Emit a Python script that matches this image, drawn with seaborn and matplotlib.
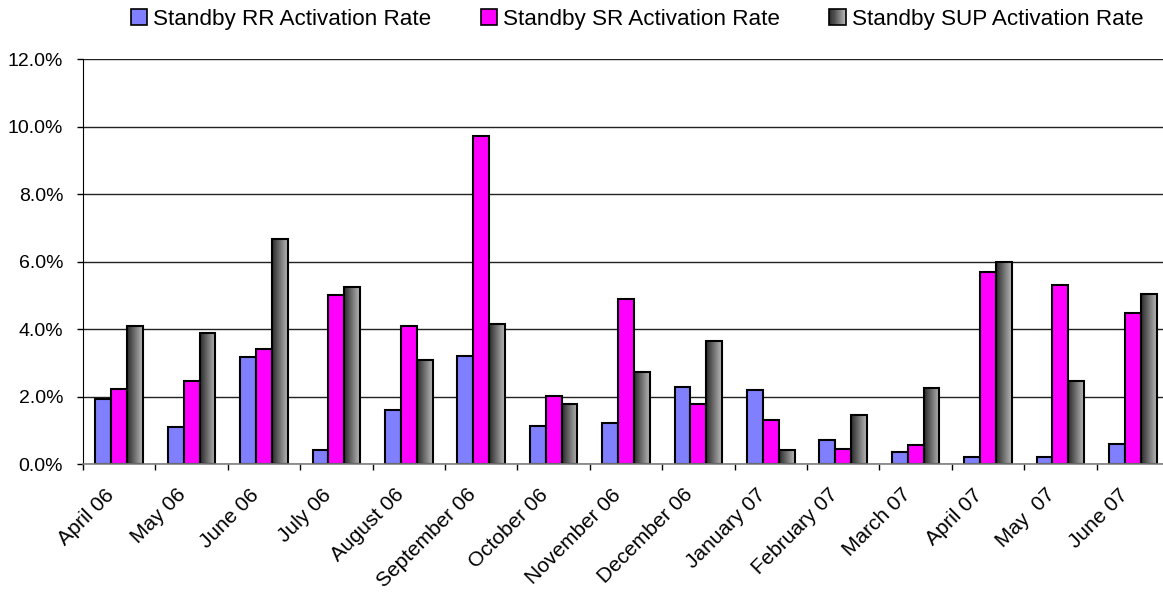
import numpy as np
import pandas as pd
import seaborn as sns
import matplotlib.pyplot as plt
import matplotlib.transforms as mtransforms
from matplotlib.patches import Rectangle
from matplotlib.legend_handler import HandlerBase
from matplotlib.colors import LinearSegmentedColormap

months = ["April 06", "May 06", "June 06", "July 06", "August 06", "September 06",
          "October 06", "November 06", "December 06", "January 07", "February 07",
          "March 07", "April 07", "May  07", "June 07"]
rr_rate = [1.93, 1.10, 3.19, 0.42, 1.60, 3.22, 1.14, 1.23, 2.29, 2.21, 0.71, 0.36, 0.22, 0.21, 0.59]
sr_rate = [2.22, 2.47, 3.42, 5.02, 4.10, 9.72, 2.02, 4.88, 1.79, 1.31, 0.46, 0.58, 5.69, 5.32, 4.48]
sup_rate = [4.09, 3.89, 6.67, 5.25, 3.08, 4.14, 1.80, 2.74, 3.64, 0.41, 1.45, 2.27, 5.98, 2.47, 5.04]
series_names = ["Standby RR Activation Rate", "Standby SR Activation Rate",
                "Standby SUP Activation Rate"]
y_ticks = [0, 2, 4, 6, 8, 10, 12]

sns.set_style("ticks")
plt.rcParams["font.family"] = ["Liberation Sans", "DejaVu Sans"]
plt.rcParams["text.color"] = "black"

df = pd.DataFrame({
    "month": months * 3,
    "rate": rr_rate + sr_rate + sup_rate,
    "series": [s for s in series_names for _ in months],
})

grad_cmap = LinearSegmentedColormap.from_list("sup", ["#2a2a2a", "#b8b8b8"])

fig = plt.figure(figsize=(11.63, 5.92), dpi=100)
ax = fig.add_axes([83 / 1163, 1 - 464.3 / 592, (1169 - 83) / 1163, (464.3 - 59) / 592])

sns.barplot(data=df, x="month", y="rate", hue="series",
            palette=["#8080FF", "#FF00FF", "#777777"], saturation=1,
            width=0.66, edgecolor="black", linewidth=1.5, legend=False, ax=ax)

# gradient fill for the SUP bars
grad = np.linspace(0, 1, 64).reshape(1, -1)
for bar in ax.containers[2]:
    x0, y0 = bar.get_xy()
    ax.imshow(grad, cmap=grad_cmap, aspect="auto", interpolation="bilinear",
              extent=(x0, x0 + bar.get_width(), y0, y0 + bar.get_height()), zorder=0.9)
    bar.set_facecolor("none")
    bar.set_zorder(1)

ax.set_xlim(-0.5, 14.5)
ax.set_ylim(0, 12)
ax.set_xlabel("")
ax.set_ylabel("")

ax.set_axisbelow(True)
ax.yaxis.grid(True, color="#222222", linewidth=1)
ax.set_yticks(y_ticks)
ax.set_yticklabels([f"{v:.1f}%" for v in y_ticks], fontsize=14)
ax.tick_params(axis="y", length=4.3, width=1, color="black", labelcolor="black", pad=10)

ax.set_xticks(range(len(months)))
ax.set_xticklabels(months, rotation=45, ha="right", rotation_mode="anchor", fontsize=15)
ax.set_xticks(np.arange(-0.5, len(months)), minor=True)
ax.tick_params(axis="x", which="major", length=0, pad=15, labelcolor="black")
ax.tick_params(axis="x", which="minor", length=4.3, width=1, color="black")
shift = mtransforms.ScaledTranslation(-15 / 100, 0, fig.dpi_scale_trans)
for lbl in ax.get_xticklabels():
    lbl.set_transform(lbl.get_transform() + shift)

sns.despine(ax=ax, top=True, right=True)
ax.spines["left"].set_color("black")
ax.spines["bottom"].set_color("#808080")
ax.spines["bottom"].set_linewidth(1.2)


class GradientHandler(HandlerBase):
    def create_artists(self, legend, orig_handle, xdescent, ydescent,
                       width, height, fontsize, trans):
        n = 16
        cols = grad_cmap(np.linspace(0, 1, n))
        arts = []
        for i in range(n):
            arts.append(Rectangle((-xdescent + i * width / n, -ydescent), width / n, height,
                                  facecolor=cols[i], edgecolor="none", transform=trans))
        arts.append(Rectangle((-xdescent, -ydescent), width, height, facecolor="none",
                              edgecolor="black", linewidth=1.2, transform=trans))
        return arts


handles = [Rectangle((0, 0), 1, 1, facecolor="#8080FF", edgecolor="black", linewidth=1.2),
           Rectangle((0, 0), 1, 1, facecolor="#FF00FF", edgecolor="black", linewidth=1.2),
           Rectangle((0, 0), 1, 1)]
fig.legend(handles, series_names, loc="center", bbox_to_anchor=(637 / 1163, 1 - 19 / 592),
           ncol=3, frameon=False, fontsize=16.2, handlelength=0.72, handleheight=0.72,
           handletextpad=0.27, columnspacing=2.2,
           handler_map={handles[2]: GradientHandler()})

fig.savefig("out.png", dpi=100)
